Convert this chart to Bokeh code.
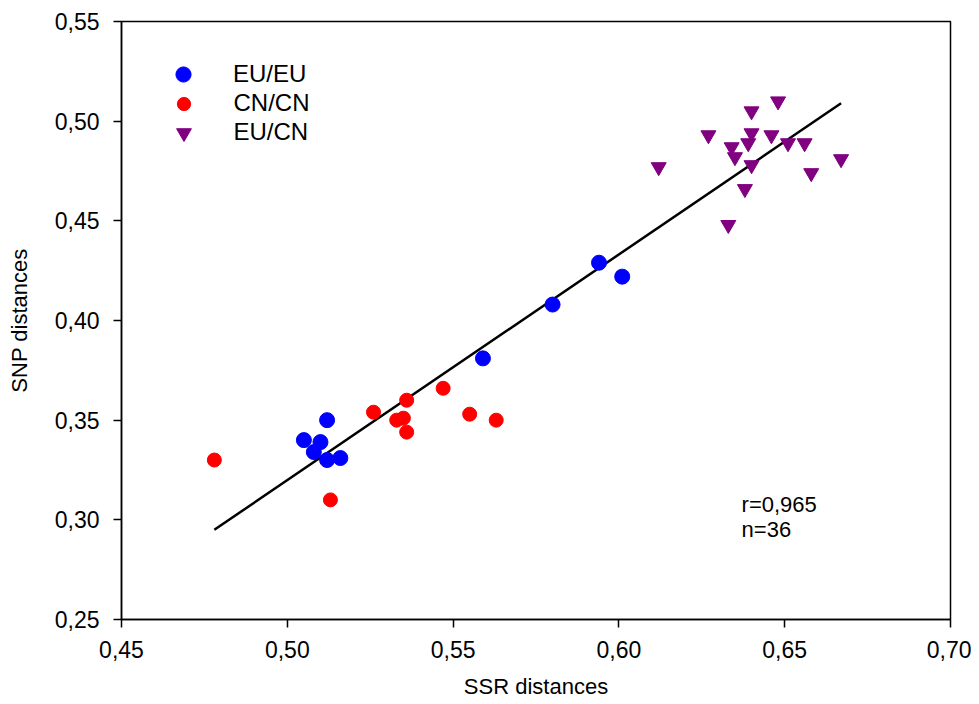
from bokeh.plotting import figure
from bokeh.models import (Range1d, FixedTicker, CustomJSTickFormatter, Legend, LegendItem, Label)
from bokeh.embed import file_html
from bokeh.resources import INLINE

# ---- data ----
eu_eu_x = [0.505, 0.512, 0.510, 0.508, 0.512, 0.516, 0.559, 0.580, 0.594, 0.601]
eu_eu_y = [0.340, 0.350, 0.339, 0.334, 0.330, 0.331, 0.381, 0.408, 0.429, 0.422]

cn_cn_x = [0.478, 0.513, 0.526, 0.536, 0.533, 0.535, 0.536, 0.547, 0.555, 0.563]
cn_cn_y = [0.330, 0.310, 0.354, 0.360, 0.350, 0.351, 0.344, 0.366, 0.353, 0.350]

eu_cn_x = [0.648, 0.640, 0.627, 0.640, 0.646, 0.634, 0.639, 0.651,
           0.656, 0.635, 0.612, 0.640, 0.667, 0.658, 0.638, 0.633]
eu_cn_y = [0.510, 0.505, 0.493, 0.494, 0.493, 0.487, 0.489, 0.489,
           0.489, 0.482, 0.477, 0.478, 0.481, 0.474, 0.466, 0.448]

fit_x = [0.478, 0.667]
fit_y = [0.295, 0.509]

x_ticks = [0.45, 0.50, 0.55, 0.60, 0.65, 0.70]
y_ticks = [0.25, 0.30, 0.35, 0.40, 0.45, 0.50, 0.55]

series_names = ["EU/EU", "CN/CN", "EU/CN"]
stats_lines = ["r=0,965", "n=36"]

FONT = "Liberation Sans"

FL, FT, FW, FH, FB = 121, 21, 829, 599, 81
p = figure(width=FL + FW + 21, height=FT + FH + FB, output_backend="svg", toolbar_location=None,
           x_range=Range1d(0.45, 0.70), y_range=Range1d(0.25, 0.55),
           min_border_left=FL, min_border_right=21, min_border_top=FT, min_border_bottom=FB)
p.xgrid.visible = False
p.ygrid.visible = False
p.outline_line_color = "black"
p.outline_line_width = 1.5
p.background_fill_color = "white"
p.border_fill_color = "white"

fmt = CustomJSTickFormatter(code="return tick.toFixed(2).replace('.', ',');")
for ax, ticks in ((p.xaxis[0], x_ticks), (p.yaxis[0], y_ticks)):
    ax.ticker = FixedTicker(ticks=ticks)
    ax.formatter = fmt
    ax.axis_line_color = "black"
    ax.axis_line_width = 1.5
    ax.major_tick_line_color = "black"
    ax.major_tick_line_width = 1.5
    ax.major_tick_out = 8
    ax.major_tick_in = 0
    ax.minor_tick_line_color = None
    ax.major_label_text_font = FONT
    ax.major_label_text_font_size = "23px"
    ax.major_label_text_color = "black"
    ax.axis_label_text_font = FONT
    ax.axis_label_text_font_size = "22px"
    ax.axis_label_text_font_style = "normal"
    ax.axis_label_text_color = "black"

p.xaxis.axis_label = "SSR distances"
p.yaxis.axis_label = "SNP distances"
p.xaxis.major_label_standoff = 13
p.yaxis.major_label_standoff = 14
p.xaxis.axis_label_standoff = 13
p.yaxis.axis_label_standoff = 20

p.line(fit_x, fit_y, line_color="black", line_width=2.5)

r1 = p.scatter(eu_eu_x, eu_eu_y, marker="circle", size=15, fill_color="#0000FF", line_color="#0000FF")
r2 = p.scatter(cn_cn_x, cn_cn_y, marker="circle", size=14, fill_color="#FF0000", line_color="#FF0000")
r3 = p.scatter(eu_cn_x, eu_cn_y, marker="inverted_triangle", size=15, fill_color="#800080", line_color="#800080")

# one legend box per entry so rows can be closer than the glyph boxes
glyph_boxes = [38, 33, 37]
for i, (name, rend, g) in enumerate(zip(series_names, [r1, r2, r3], glyph_boxes)):
    center_from_top = 54 + 29 * i
    top = center_from_top - g / 2
    bottom = FH - (top + g)
    left = 62 - g / 2
    lg = Legend(items=[LegendItem(label=name, renderers=[rend])],
                location=(left, bottom), orientation="vertical",
                glyph_width=g, glyph_height=g, label_height=g, spacing=0,
                label_standoff=int(round(50 - g / 2)), padding=0, margin=0,
                border_line_color=None, background_fill_alpha=0,
                label_text_font=FONT, label_text_font_size="24px", label_text_color="black")
    p.add_layout(lg, "center")

p.add_layout(Label(x=0.637, y=0.3075, text=stats_lines[0], text_font=FONT,
                   text_font_size="22px", text_color="black", text_baseline="alphabetic"))
p.add_layout(Label(x=0.637, y=0.2950, text=stats_lines[1], text_font=FONT,
                   text_font_size="22px", text_color="black", text_baseline="alphabetic"))

open("out.html", "w").write(file_html(p, INLINE))
